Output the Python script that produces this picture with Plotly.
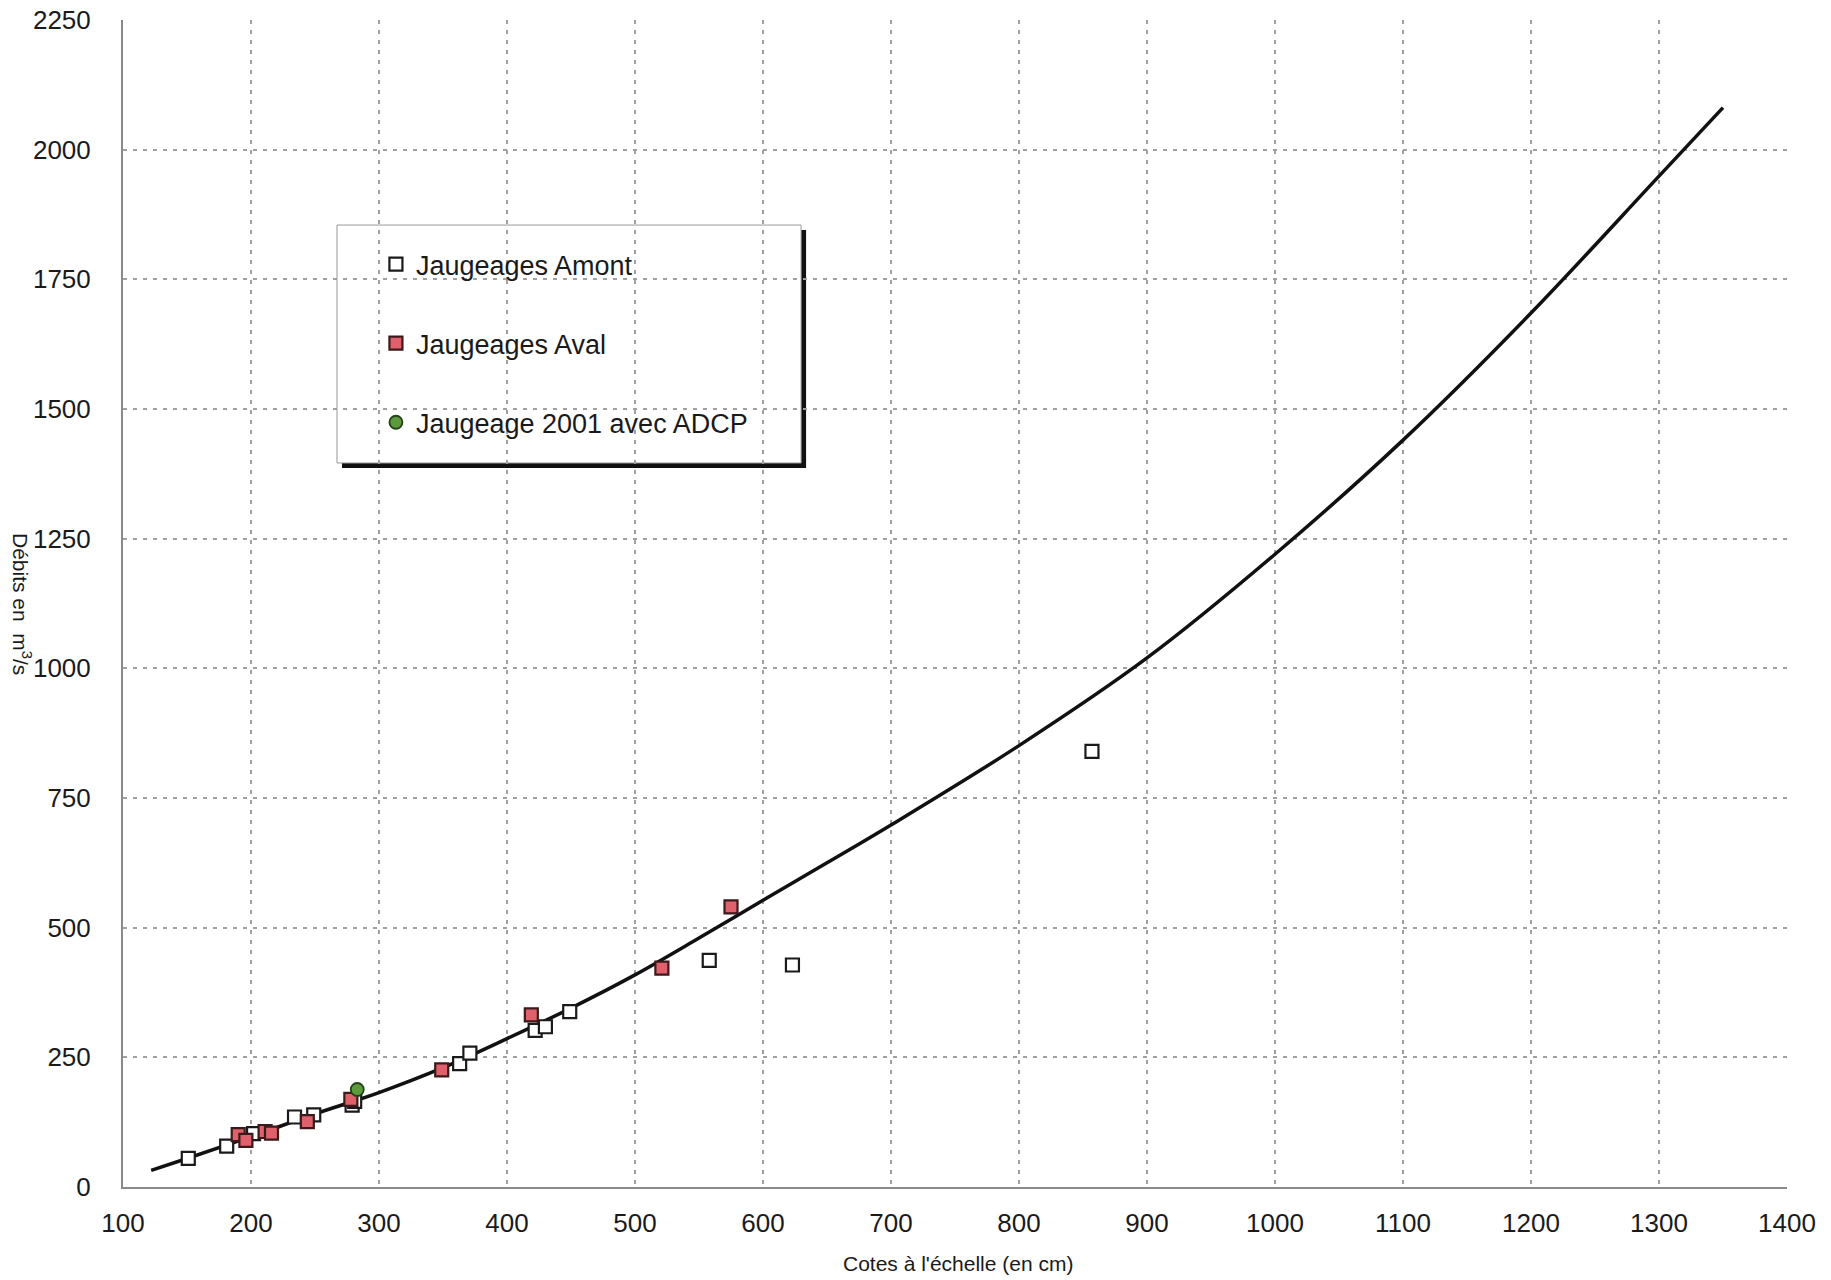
import plotly.graph_objects as go

# Rating curve (stage in cm -> discharge in m3/s)
curve_cote = [122, 150, 200, 250, 300, 350, 400, 450, 500, 550, 600, 650, 700,
              800, 900, 1000, 1100, 1200, 1300, 1350]
curve_debit = [32, 55, 97, 141, 182, 230, 286, 345, 409, 480, 553, 625, 698,
               851, 1020, 1220, 1440, 1685, 1949, 2081]

# Upstream gaugings
amont_cote = [151, 181, 202, 234, 249, 279, 281, 363, 371, 422, 430, 449, 558, 623, 857]
amont_debit = [55, 79, 103, 135, 139, 158, 165, 238, 258, 302, 309, 338, 437, 428, 840]

# Downstream gaugings
aval_cote = [190, 196, 211, 216, 244, 278, 349, 419, 521, 575]
aval_debit = [101, 90, 107, 104, 126, 169, 226, 332, 422, 540]

# 2001 ADCP gauging
adcp_cote = [283]
adcp_debit = [188]

x_ticks = list(range(100, 1401, 100))
y_ticks = list(range(0, 2251, 250))

FONT = "Liberation Sans, Arial, sans-serif"
TXT = "#1a1a1a"

fig = go.Figure()

fig.add_trace(go.Scatter(
    x=curve_cote, y=curve_debit, mode="lines", line_shape="spline",
    line=dict(color="#111111", width=3.5), showlegend=False, hoverinfo="skip"))

fig.add_trace(go.Scatter(
    x=amont_cote, y=amont_debit, mode="markers", name="Jaugeages Amont",
    legendgroup="a",
    marker=dict(symbol="square", size=13, color="white",
                line=dict(color="#1a1a1a", width=2.2))))

fig.add_trace(go.Scatter(
    x=aval_cote, y=aval_debit, mode="markers", name="Jaugeages Aval",
    legendgroup="b",
    marker=dict(symbol="square", size=13, color="#e0606c",
                line=dict(color="#3a1a1a", width=2.2))))

fig.add_trace(go.Scatter(
    x=adcp_cote, y=adcp_debit, mode="markers", name="Jaugeage 2001 avec ADCP",
    legendgroup="c",
    marker=dict(symbol="circle", size=13, color="#5c9a3c",
                line=dict(color="#23421a", width=1.8))))

# legend frame with drop shadow
bx0, bx1, by0, by1 = 0.1286, 0.4075, 0.6204, 0.8243
dx, dy = 5 / 1664, 5 / 1167
shapes = [
    dict(type="rect", xref="paper", yref="paper", layer="between",
         x0=bx0 + dx, x1=bx1 + dx, y0=by0 - dy, y1=by1 - dy,
         fillcolor="#111111", line=dict(width=0)),
    dict(type="rect", xref="paper", yref="paper", layer="between",
         x0=bx0, x1=bx1, y0=by0, y1=by1,
         fillcolor="white", line=dict(color="#999999", width=1)),
]

grid = dict(showgrid=True, gridcolor="#a0a0a0", gridwidth=1.5, griddash="4px,6px",
            zeroline=False, showline=True, linecolor="#8a8a8a", linewidth=2,
            mirror=False, ticks="", automargin=False,
            tickfont=dict(family=FONT, size=26, color=TXT))

fig.update_layout(
    width=1831, height=1280,
    margin=dict(l=123, r=44, t=20, b=93, autoexpand=False),
    paper_bgcolor="white", plot_bgcolor="white",
    font=dict(family=FONT, color=TXT),
    xaxis=dict(range=[100, 1400], tickvals=x_ticks, ticklabelstandoff=12, **grid),
    yaxis=dict(range=[0, 2250], tickvals=y_ticks, ticklabelstandoff=25, **grid),
    shapes=shapes,
    legend=dict(x=0.152, y=0.8115, xanchor="left", yanchor="top",
                bgcolor="rgba(0,0,0,0)", borderwidth=0,
                font=dict(family=FONT, size=27, color=TXT),
                tracegroupgap=41, itemwidth=30),
    annotations=[
        dict(text="Cotes à l'échelle (en cm)", xref="paper", yref="paper",
             x=0.5017, y=0, yanchor="middle", yshift=-76, showarrow=False,
             font=dict(family=FONT, size=21, color=TXT)),
        dict(text="Débits en  m<sup>3</sup>/s", xref="paper", yref="paper",
             x=0, y=0.4996, xanchor="center", xshift=-101, showarrow=False,
             textangle=90, font=dict(family=FONT, size=21, color=TXT)),
    ],
)

fig.write_html("out.html")
